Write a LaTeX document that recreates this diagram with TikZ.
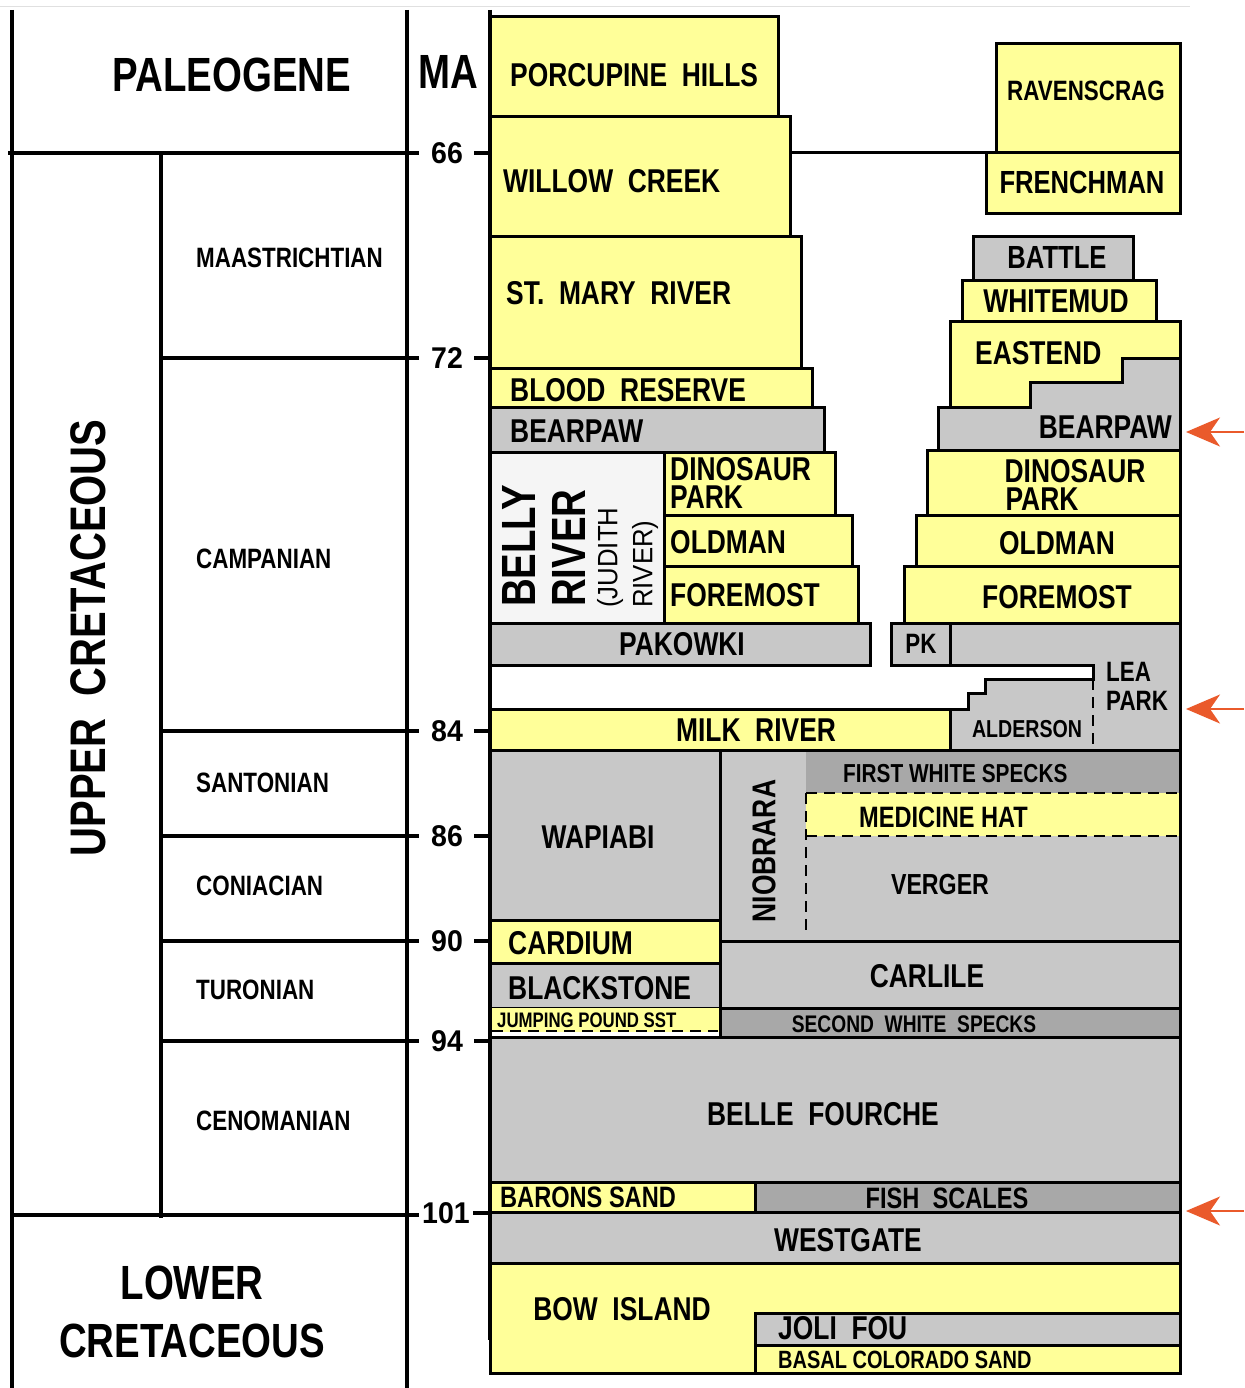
\documentclass[tikz,border=0pt]{standalone}
\usepackage{fontspec}
\setmainfont{Liberation Sans}
\newfontfamily\cf{Liberation Sans}[FakeStretch=0.8]
\newfontfamily\cfw{Liberation Sans}[FakeStretch=0.92]
\newfontfamily\cfn{Liberation Sans}[FakeStretch=0.95]
\usetikzlibrary{arrows.meta}
\definecolor{yel}{HTML}{FFFF99}
\definecolor{gry}{HTML}{C8C8C8}
\definecolor{dgry}{HTML}{A8A8A8}
\definecolor{lgry}{HTML}{F5F5F5}
\definecolor{arr}{HTML}{EA5A2B}
\newcommand\fsz[1]{\fontsize{#1}{#1}\selectfont}
\begin{document}
\begin{tikzpicture}[x=1pt,y=-1pt,
  box/.style={draw=black,line width=3pt},
  yb/.style={box,fill=yel}, gb/.style={box,fill=gry}, db/.style={box,fill=dgry},
  frame/.style={draw=black,line width=4pt},
  dsh/.style={draw=black,line width=2.5pt,dash pattern=on 11pt off 7pt},
  lab/.style={inner sep=0pt,font=\cf\bfseries\fsz{#1}}, lab/.default=33,
  stg/.style={inner sep=0pt,font=\cf\bfseries\fsz{28},anchor=west},
  num/.style={inner sep=0pt,font=\cfn\bfseries\fsz{30}},
  sml/.style={inner sep=0pt,font=\cfw\fsz{28},rotate=90,anchor=west},
  arrowst/.style={draw=arr,line width=1.8pt,-{Stealth[length=34pt,width=29pt,inset=10pt]}}
]
\useasboundingbox (0,0) rectangle (1244,1388);
\fill[white] (0,0) rectangle (1244,1388);
\draw[black!12,line width=1pt] (0,7) -- (1190,7);

% ---------- left frame ----------
\draw[frame] (12,10) -- (12,1388);
\draw[frame] (407,10) -- (407,1388);
\draw[frame] (161,153) -- (161,1218);
\draw[frame] (8,153) -- (419,153);
\draw[frame] (161,358) -- (419,358);
\draw[frame] (161,731) -- (419,731);
\draw[frame] (161,836) -- (419,836);
\draw[frame] (161,941) -- (419,941);
\draw[frame] (161,1041) -- (419,1041);
\draw[frame] (10,1215) -- (419,1215);
\foreach \yy in {153,358,731,836,941,1041} \draw[frame] (474,\yy) -- (490,\yy);
\draw[frame] (473,1213) -- (490,1213);

% ---------- left column ----------
\draw[yb] (490,17) rectangle (778,117);
\draw[yb] (490,117) rectangle (790,237);
\draw[yb] (490,237) rectangle (801,368);
\draw[yb] (490,368) rectangle (812,407);
\draw[gb] (490,407) rectangle (824,452);
\draw[box,fill=lgry] (490,452) rectangle (664,623);
\draw[yb] (664,452) rectangle (835,515);
\draw[yb] (664,515) rectangle (852,566);
\draw[yb] (664,566) rectangle (858,623);
\draw[gb] (490,623) rectangle (870,665);

% ---------- right column (upper) ----------
\draw[box] (790,153) -- (1180,153);
\draw[yb] (996,44) rectangle (1180,153);
\draw[yb] (986,153) rectangle (1180,214);
\draw[gb] (973,237) rectangle (1133,280);
\draw[yb] (962,280) rectangle (1156,321);
\draw[yb] (950,321) rectangle (1180,407);
\draw[gb] (938,407) -- (1030,407) -- (1030,382) -- (1122,382) -- (1122,358)
  -- (1180,358) -- (1180,450) -- (938,450) -- cycle;
\draw[yb] (927,450) rectangle (1180,515);
\draw[yb] (916,515) rectangle (1180,566);
\draw[yb] (904,566) rectangle (1180,623);

% ---------- Lea Park / Alderson / Milk River ----------
\fill[gry] (950,623) -- (1180,623) -- (1180,750) -- (1093,750) -- (1093,665) -- (950,665) -- cycle;
\fill[gry] (950,709) -- (968,709) -- (968,693) -- (985,693) -- (985,679) -- (1093,679)
  -- (1093,750) -- (950,750) -- cycle;
\draw[box] (950,665) -- (1093,665) -- (1093,679) -- (985,679) -- (985,693) -- (968,693) -- (968,709) -- (950,709);
\draw[yb] (490,709) rectangle (950,750);
\draw[box] (950,623) -- (1180,623) -- (1180,750) -- (950,750);
\draw[dsh] (1093,679) -- (1093,750);
\draw[gb] (891,623) rectangle (950,665);

% ---------- Colorado group ----------
\draw[gb] (490,750) rectangle (720,920);
\fill[gry] (720,750) rectangle (1180,941);
\fill[dgry] (806,750) rectangle (1180,793);
\fill[yel] (806,793) rectangle (1180,836);
\draw[box] (720,750) rectangle (1180,941);
\draw[dsh] (806,793) -- (1180,793);
\draw[dsh] (806,836) -- (1180,836);
\draw[dsh] (806,793) -- (806,935);
\draw[yb] (490,920) rectangle (720,963);
\draw[gb] (490,963) rectangle (720,1008);
\draw[gb] (720,941) rectangle (1180,1008);
\fill[yel] (490,1008) rectangle (720,1032);
\draw[db] (720,1008) rectangle (1180,1037);
\draw[dsh] (492,1031) -- (718,1031);
\draw[gb] (490,1037) rectangle (1180,1182);
\draw[yb] (490,1182) rectangle (755,1212);
\draw[db] (755,1182) rectangle (1180,1212);
\draw[gb] (490,1212) rectangle (1180,1263);
\draw[yb] (490,1263) rectangle (1180,1373);
\draw[gb] (755,1313) rectangle (1180,1345);
\draw[yb] (755,1345) rectangle (1180,1373);

% main column line
\draw[frame] (490,10) -- (490,1340);

% ---------- left labels ----------
\node[lab=48] (paleo) at (232,75) {PALEOGENE};
\node[lab=48] (ma) at (448,72) {MA};
\node[num] (n66) at (447,153) {66};
\node[num] (n72) at (447,358) {72};
\node[num] (n84) at (447,731) {84};
\node[num] (n86) at (447,836) {86};
\node[num] (n90) at (447,941) {90};
\node[num] (n94) at (447,1041) {94};
\node[num] (n101) at (446,1213) {101};
\node[stg] (maas) at (196,258) {MAASTRICHTIAN};
\node[stg] (camp) at (196,559) {CAMPANIAN};
\node[stg] (sant) at (196,783) {SANTONIAN};
\node[stg] (coni) at (196,886) {CONIACIAN};
\node[stg] (turo) at (196,990) {TURONIAN};
\node[stg] (ceno) at (196,1121) {CENOMANIAN};
\node[lab=50,rotate=90] (uc) at (88,638) {UPPER\ \ CRETACEOUS};
\node[lab=48] (lc1) at (192,1283) {LOWER};
\node[lab=48] (lc2) at (192,1341) {CRETACEOUS};

% ---------- formation labels ----------
\node[lab,anchor=west] (porc) at (510,75) {PORCUPINE\ \ HILLS};
\node[lab,anchor=west] (will) at (503,181) {WILLOW\ \ CREEK};
\node[lab,anchor=west] (stm) at (506,293) {ST.\ \ MARY\ \ RIVER};
\node[lab,anchor=west] (blood) at (510,390) {BLOOD\ \ RESERVE};
\node[lab,anchor=west] (bearl) at (510,431) {BEARPAW};
\node[lab=48,rotate=90,anchor=west] (belly) at (519,607) {BELLY};
\node[lab=48,rotate=90,anchor=west] (river) at (569,607) {RIVER};
\node[sml] (judith) at (610,608) {(JUDITH};
\node[sml] (jriver) at (645,608) {RIVER)};
\node[lab,anchor=west] (dinol1) at (670,469) {DINOSAUR};
\node[lab,anchor=west] (dinol2) at (670,497) {PARK};
\node[lab,anchor=west] (oldl) at (670,542) {OLDMAN};
\node[lab,anchor=west] (forel) at (670,595) {FOREMOST};
\node[lab] (pak) at (682,644) {PAKOWKI};

\node[lab=28] (rav) at (1086,91) {RAVENSCRAG};
\node[lab=32] (fren) at (1082,182) {FRENCHMAN};
\node[lab=32] (batt) at (1057,257) {BATTLE};
\node[lab] (white) at (1056,301) {WHITEMUD};
\node[lab,anchor=west] (east) at (975,353) {EASTEND};
\node[lab,anchor=east] (bearr) at (1172,427) {BEARPAW};
\node[lab] (dinor1) at (1075,471) {DINOSAUR};
\node[lab] (dinor2) at (1042,499) {PARK};
\node[lab] (oldr) at (1057,543) {OLDMAN};
\node[lab] (forer) at (1057,597) {FOREMOST};
\node[lab=28] (pk) at (921,644) {PK};
\node[lab=28,anchor=west] (lea) at (1106,672) {LEA};
\node[lab=28,anchor=west] (park) at (1106,701) {PARK};
\node[lab=24.5] (ald) at (1027,729) {ALDERSON};
\node[lab] (milk) at (756,730) {MILK\ \ RIVER};

\node[lab] (wap) at (598,837) {WAPIABI};
\node[lab,rotate=90] (niob) at (764,851) {NIOBRARA};
\node[lab=26,anchor=west] (fws) at (843,774) {FIRST WHITE SPECKS};
\node[lab=29.5,anchor=west] (mh) at (859,817) {MEDICINE HAT};
\node[lab=29] (verg) at (940,885) {VERGER};
\node[lab,anchor=west] (card) at (508,943) {CARDIUM};
\node[lab,anchor=west] (black) at (508,988) {BLACKSTONE};
\node[lab] (carl) at (927,976) {CARLILE};
\node[lab=21,anchor=west] (jump) at (497,1020) {JUMPING POUND SST};
\node[lab=24] (sws) at (914,1024) {SECOND\ \ WHITE\ \ SPECKS};
\node[lab] (belle) at (823,1114) {BELLE\ \ FOURCHE};
\node[lab=29.5,anchor=west] (barons) at (500,1197) {BARONS SAND};
\node[lab=29.5] (fish) at (947,1198) {FISH\ \ SCALES};
\node[lab] (west) at (848,1240) {WESTGATE};
\node[lab] (bow) at (622,1309) {BOW\ \ ISLAND};
\node[lab,anchor=west] (joli) at (778,1328) {JOLI\ \ FOU};
\node[lab=25,anchor=west] (basal) at (778,1360) {BASAL COLORADO SAND};

% ---------- arrows ----------
\coordinate (a1s) at (1244,432); \coordinate (a1e) at (1186,432);
\coordinate (a2s) at (1244,709); \coordinate (a2e) at (1186,709);
\coordinate (a3s) at (1244,1211); \coordinate (a3e) at (1186,1211);
\draw[arrowst] (a1s) -- (a1e);
\draw[arrowst] (a2s) -- (a2e);
\draw[arrowst] (a3s) -- (a3e);
\end{tikzpicture}
\end{document}
